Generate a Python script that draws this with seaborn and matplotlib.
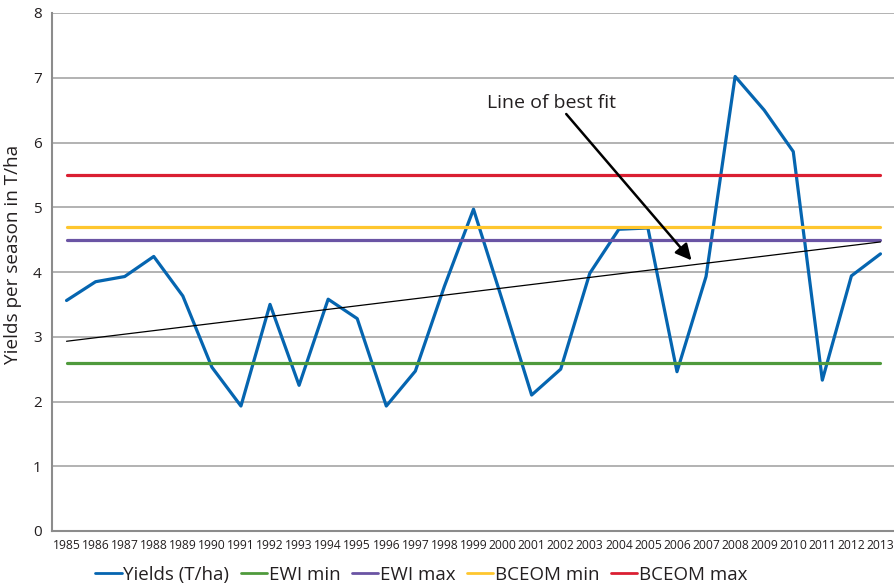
import numpy as np
import pandas as pd
import matplotlib.pyplot as plt
import seaborn as sns
from matplotlib.ticker import FixedLocator

plt.switch_backend('Agg')

# data
years = list(range(1985, 2014))
yields = [3.56, 3.85, 3.93, 4.24, 3.63, 2.53, 1.93, 3.50, 2.25, 3.58,
          3.28, 1.93, 2.47, 3.78, 4.97, 3.55, 2.10, 2.50, 3.98, 4.66,
          4.68, 2.46, 3.93, 7.02, 6.50, 5.86, 2.33, 3.94, 4.28]
ewi_min = [2.6] * len(years)
ewi_max = [4.5] * len(years)
bceom_min = [4.7] * len(years)
bceom_max = [5.5] * len(years)

series_names = ['Yields (T/ha)', 'EWI min', 'EWI max', 'BCEOM min', 'BCEOM max']
series_values = [yields, ewi_min, ewi_max, bceom_min, bceom_max]
colors = ['#0565b0', '#4f9a3c', '#6a54a4', '#fec62e', '#da1f32']

sns.set_style("white")
plt.rcParams['font.family'] = ['Open Sans', 'DejaVu Sans']
text_color = '#231f20'

rows = []
for name, vals in zip(series_names, series_values):
    for i, v in enumerate(vals):
        rows.append({'idx': i, 'value': v, 'series': name})
df = pd.DataFrame(rows)

fig = plt.figure(figsize=(8.95, 5.85), dpi=100)
ax = fig.add_axes([52 / 895, 54 / 585, 843 / 895, 518 / 585])

sns.lineplot(data=df, x='idx', y='value', hue='series', hue_order=series_names,
             palette=colors, linewidth=2.3, ax=ax, zorder=3)

# linear trend of the yields
idx = np.arange(len(years))
slope, intercept = np.polyfit(idx, yields, 1)
ax.plot(idx, slope * idx + intercept, color='black', linewidth=0.9, zorder=4)

ax.set_xlim(-0.5, len(years) - 0.5)
ax.set_ylim(0, 8)
ax.set_yticks(range(0, 9))
ax.yaxis.grid(True, color='#a6a6a6', linewidth=1.2)
ax.set_axisbelow(True)
for s in ['top', 'right']:
    ax.spines[s].set_visible(False)
for s in ['left', 'bottom']:
    ax.spines[s].set_color('#8c8c8c')
    ax.spines[s].set_linewidth(1.5)

ax.set_xticks(idx)
ax.set_xticklabels([str(y) for y in years], fontsize=8.7, color=text_color)
ax.xaxis.set_minor_locator(FixedLocator(np.arange(-0.5, len(years), 1.0)))
ax.tick_params(axis='x', which='major', length=0, pad=6)
ax.tick_params(axis='x', which='minor', length=4, color='#8c8c8c', width=1.2)
ax.tick_params(axis='y', length=4, color='#8c8c8c', width=1.2,
               labelsize=11, labelcolor=text_color)
ax.set_xlabel('')
ax.set_ylabel('Yields per season in T/ha', fontsize=13.6, color=text_color)
ax.yaxis.set_label_coords(-0.036, 0.533)

ax.text(16.68, 6.61, 'Line of best fit', ha='center', va='center',
        fontsize=14, color=text_color, zorder=5)
ax.annotate('', xy=(21.5, 4.18), xytext=(17.19, 6.44),
            arrowprops=dict(arrowstyle='-|>', color='black', lw=1.8,
                            mutation_scale=24, shrinkA=0, shrinkB=0),
            zorder=5)

leg = ax.legend(loc='center', bbox_to_anchor=(0.438, -0.084), ncol=5, frameon=False,
                fontsize=13.5, handlelength=1.4, handletextpad=0.1,
                columnspacing=0.6, labelcolor=text_color)
for line in leg.get_lines():
    line.set_linewidth(2.0)

plt.savefig('out.png', dpi=100, facecolor='white')
plt.close()
